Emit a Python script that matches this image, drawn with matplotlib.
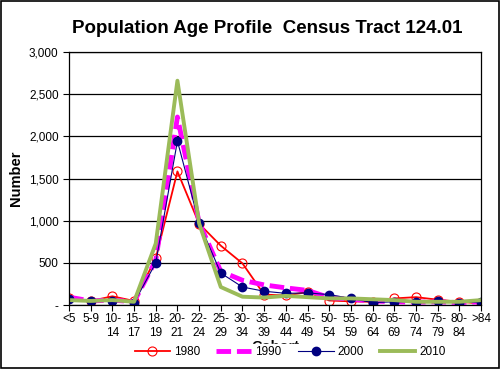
"""Population age profile, Census Tract 124.01 (1980-2010)."""

import matplotlib
matplotlib.use("Agg")
import matplotlib.pyplot as plt
from matplotlib.ticker import FuncFormatter

plt.rcParams["font.family"] = ["Liberation Sans", "DejaVu Sans"]

COHORTS = ["<5", "5-9", "10-\n14", "15-\n17", "18-\n19", "20-\n21", "22-\n24",
           "25-\n29", "30-\n34", "35-\n39", "40-\n44", "45-\n49", "50-\n54",
           "55-\n59", "60-\n64", "65-\n69", "70-\n74", "75-\n79", "80-\n84", ">84"]

POP_1980 = [80, 50, 105, 50, 555, 1585, 965, 705, 495, 125, 115, 155, 55, 45,
            40, 80, 95, 65, 40, 20]
POP_1990 = [95, 50, 60, 40, 530, 2230, 980, 400, 295, 240, 205, 175, 90, 70,
            50, 40, 35, 40, 30, 40]
POP_2000 = [70, 55, 55, 30, 500, 1945, 975, 380, 215, 165, 140, 145, 125, 80,
            30, 40, 40, 45, 30, 36]
POP_2010 = [60, 50, 60, 40, 730, 2660, 970, 215, 100, 90, 110, 95, 80, 80,
            70, 60, 40, 40, 40, 60]


def yfmt(v, _pos):
    return "-" if v == 0 else f"{int(v):,}"


def plot():
    fig = plt.figure(figsize=(5, 3.69), dpi=100)
    ax = fig.add_axes([0.138, 0.173, 0.824, 0.686])
    x = list(range(len(COHORTS)))

    ax.plot(x, POP_1980, color="#FF0000", lw=1.3, marker="o", ms=6.5,
            mfc="none", mec="#FF0000", mew=0.8, label="1980")
    ax.plot(x, POP_1990, color="#FF00FF", lw=3.5, ls=(0, (3, 1.2)),
            label="1990")
    ax.plot(x, POP_2000, color="#000080", lw=0.8, marker="o", ms=6,
            mfc="#000080", mec="#000080", label="2000")
    ax.plot(x, POP_2010, color="#9BBB59", lw=2.8, label="2010")

    ax.set_xlim(0, len(COHORTS) - 1)
    ax.set_ylim(0, 3000)
    ax.set_yticks(range(0, 3001, 500))
    ax.yaxis.set_major_formatter(FuncFormatter(yfmt))
    ax.set_xticks(x)
    ax.set_xticklabels(COHORTS, fontsize=8.5, linespacing=1.15)
    ax.tick_params(axis="y", labelsize=8.5, length=4, width=0.8, direction="out")
    ax.tick_params(axis="x", length=4, width=0.8, direction="out", pad=2)
    ax.grid(axis="y", color="black", lw=0.9)
    ax.set_axisbelow(True)
    for s in ax.spines.values():
        s.set_linewidth(0.9)

    ax.set_ylabel("Number", fontsize=10.5, fontweight="bold", labelpad=4)
    ax.set_xlabel("Cohort", fontsize=10.5, fontweight="bold", labelpad=1)
    ax.set_title("Population Age Profile  Census Tract 124.01", fontsize=13.5,
                 fontweight="bold", pad=14, x=0.48)

    leg = fig.legend(loc="center", bbox_to_anchor=(0.58, 0.045), ncol=4,
                     fontsize=8.5, frameon=True, handlelength=3.0,
                     handletextpad=0.3, columnspacing=1.4, borderpad=0.2)
    leg.get_frame().set_edgecolor("white")
    leg.get_frame().set_facecolor("white")
    leg.get_frame().set_alpha(1)

    fig.patches.append(plt.Rectangle((0.002, 0.003), 0.995, 0.994,
                                     transform=fig.transFigure, fill=False,
                                     edgecolor="black", lw=1.2))
    fig.savefig("out.png", dpi=100)


if __name__ == "__main__":
    plot()
